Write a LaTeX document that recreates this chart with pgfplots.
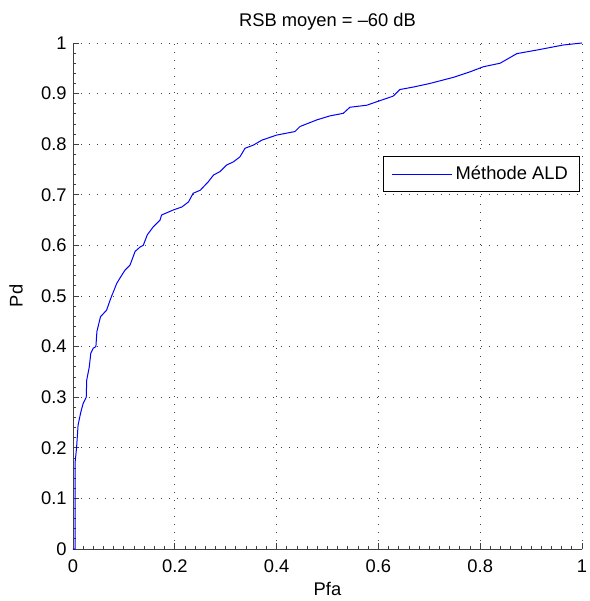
\documentclass[border=0pt]{standalone}
\usepackage{pgfplots}
\pgfplotsset{compat=1.18}
\usepackage{fontspec}
\setmainfont{Liberation Sans}
\begin{document}
\fontsize{11}{13}\selectfont
\begin{tikzpicture}
\begin{axis}[
  name=ax,
  scale only axis, width=305.4pt, height=303.6pt,
  xmin=0, xmax=1, ymin=0, ymax=1,
  axis x line=bottom, axis y line=left,
  axis line style={-, black!75, line width=0.5pt},
  xtick={0,0.2,0.4,0.6,0.8,1},
  ytick={0,0.1,0.2,0.3,0.4,0.5,0.6,0.7,0.8,0.9,1},
  xticklabels={0,0.2,0.4,0.6,0.8,1},
  yticklabels={0,0.1,0.2,0.3,0.4,0.5,0.6,0.7,0.8,0.9,1},
  minor x tick num=9, minor y tick num=4,
  tick align=inside,
  major tick length=3.6pt, minor tick length=1.8pt,
  tick style={black!75, line width=0.5pt},
  grid=major,
  major grid style={black!75, line width=0.5pt, dash pattern=on 0.6pt off 4.2pt},
  title={RSB moyen = –60 dB},
  title style={yshift=-2pt},
  xlabel={Pfa}, ylabel={Pd},
  xlabel style={yshift=1.8pt},
  ylabel style={yshift=3.4pt},
  tick label style={font=\fontsize{11}{13}\selectfont},
  xticklabel style={yshift=-2.5pt},
  /pgf/number format/assume math mode=true,
  legend style={at={(0.996,0.741)}, anchor=east, draw=black, line width=0.6pt,
    font=\fontsize{11}{13}\selectfont, inner xsep=5pt, inner ysep=3.5pt},
  legend cell align=left,
  legend image code/.code={\draw[#1] (0pt,0pt) -- (36pt,0pt);},
]
\addplot[blue, line width=0.6pt] coordinates {
(0,0) (0.004,0) (0.004,0.17) (0.007,0.20) (0.010,0.245) (0.015,0.269) (0.020,0.288)
(0.026,0.30) (0.027,0.334) (0.032,0.360) (0.035,0.387) (0.040,0.397) (0.045,0.40)
(0.047,0.43) (0.054,0.459) (0.066,0.472) (0.073,0.492) (0.076,0.50) (0.086,0.525)
(0.092,0.535) (0.102,0.551) (0.112,0.561) (0.122,0.588) (0.132,0.597) (0.138,0.60)
(0.146,0.621) (0.158,0.637) (0.171,0.650) (0.174,0.660) (0.197,0.670) (0.214,0.676)
(0.227,0.686) (0.236,0.703) (0.250,0.709) (0.266,0.726) (0.276,0.739) (0.289,0.746)
(0.302,0.759) (0.315,0.765) (0.328,0.775) (0.338,0.792) (0.354,0.798) (0.371,0.808)
(0.400,0.818) (0.436,0.825) (0.446,0.835) (0.479,0.848) (0.505,0.856) (0.531,0.861)
(0.544,0.873) (0.577,0.877) (0.600,0.885) (0.629,0.895) (0.642,0.908) (0.669,0.913)
(0.701,0.920) (0.747,0.932) (0.780,0.943) (0.806,0.953) (0.839,0.960) (0.872,0.979)
(0.911,0.986) (0.963,0.996) (1.0,1.0)
};
\addlegendentry{Méthode ALD}
\end{axis}
\pgfresetboundingbox
\path ([xshift=-43.8pt,yshift=-31.2pt]ax.south west) rectangle ([xshift=4.2pt,yshift=25.8pt]ax.north east);
\end{tikzpicture}
\end{document}
